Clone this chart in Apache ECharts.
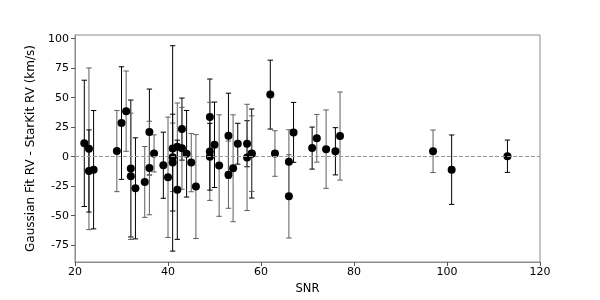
<!DOCTYPE html>
<html>
<head>
<meta charset="utf-8">
<script src="https://cdn.jsdelivr.net/npm/echarts@6/dist/echarts.min.js"></script>
<style>html,body{margin:0;padding:0;background:#fff}#c{width:600px;height:300px}</style>
</head>
<body>
<div id="c"></div>
<script>
const snr = [22,23,23,24,29,30,31,32,32,33,35,36,36,37,39,40,41,41,41,42,42,43,43,44,45,46,49,49,49,50,51,53,53,54,55,57,57,58,58,62,63,66,66,67,71,72,74,76,77,97,101,113];
const rvDiff = [11.3,6.7,-12.1,-11,4.8,28.5,38.6,-10,-16.6,-26.8,-21.4,20.9,-9.6,2.8,-7.2,-17.4,7,-0.5,-5,8.5,-28,23.4,7.1,2.5,-5,-25.3,33.6,4.5,0,10.1,-7.5,17.8,-15.2,-9.8,11,11,-0.6,2.7,2.6,52.6,2.7,-4.2,-33.6,20.6,7.3,15.6,6.4,4.6,17.5,4.6,-11,0.4];
const rvErr = [53.5,68.5,34.8,50.1,34.4,47.7,34,58,53.5,42.8,30,36.4,39.6,15.7,28,51,87,29,41,37,42,26.3,34.7,36.7,24.7,44,32.2,41.5,28.3,36.2,43,36,28.5,45.3,17.3,19.5,45,37.7,32,29.2,19.3,27,35.3,25.4,17.8,20.2,33.2,20,37.3,18,29.4,13.7];
const group = [0,1,0,0,1,0,1,0,1,0,1,0,1,1,0,1,0,1,0,1,0,0,1,0,1,1,0,1,0,0,1,0,1,1,0,0,1,0,1,0,1,1,1,0,0,1,1,0,1,1,0,0];
const yTicks = [-75,-50,-25,0,25,50,75,100];

const rows = snr.map((s,i)=>[s, rvDiff[i], rvErr[i], group[i]]);
const colors = ['#000000', '#5e5e5e'];
const font = 'DejaVu Sans';

const chart = echarts.init(document.getElementById('c'), null, {renderer:'canvas'});
chart.setOption({
  animation:false,
  backgroundColor:'#fff',
  grid:{left:75, right:60, top:35, bottom:38, show:true, borderColor:'#8c8c8c', borderWidth:1, backgroundColor:'transparent'},
  xAxis:{
    type:'value', min:20, max:120, interval:20,
    name:'SNR', nameLocation:'middle', nameGap:17,
    nameTextStyle:{fontFamily:font, fontSize:11.5, color:'#000', verticalAlign:'top'},
    axisLine:{show:true, onZero:false, lineStyle:{color:'#8c8c8c', width:1}},
    axisTick:{show:true, inside:false, length:4, lineStyle:{color:'#555'}},
    axisLabel:{fontFamily:font, fontSize:11, color:'#000', margin:5},
    splitLine:{show:false}
  },
  yAxis:{
    type:'value', min:-89.2, max:103.1,
    name:'Gaussian Fit RV - StarKit RV (km/s)', nameLocation:'middle', nameGap:32, nameRotate:90,
    nameTextStyle:{fontFamily:font, fontSize:12, color:'#000'},
    axisLine:{show:true, onZero:false, lineStyle:{color:'#8c8c8c', width:1}},
    axisTick:{show:true, inside:false, length:4, customValues:yTicks, lineStyle:{color:'#555'}},
    axisLabel:{fontFamily:font, fontSize:11, color:'#000', margin:6, customValues:yTicks},
    splitLine:{show:false}
  },
  series:[
    {
      type:'custom',
      data:rows,
      encode:{x:0, y:1},
      z:2,
      renderItem:function(params, api){
        const x = api.value(0), y = api.value(1), e = api.value(2);
        const c = colors[api.value(3)];
        const top = api.coord([x, y+e]);
        const bot = api.coord([x, y-e]);
        const hw = 2.7;
        const st = {stroke:c, lineWidth:1};
        return {type:'group', children:[
          {type:'line', shape:{x1:top[0], y1:top[1], x2:bot[0], y2:bot[1]}, style:st},
          {type:'line', shape:{x1:top[0]-hw, y1:top[1], x2:top[0]+hw, y2:top[1]}, style:st},
          {type:'line', shape:{x1:bot[0]-hw, y1:bot[1], x2:bot[0]+hw, y2:bot[1]}, style:st}
        ]};
      }
    },
    {
      type:'scatter',
      data:rows.map(r=>[r[0], r[1]]),
      symbol:'circle', symbolSize:8,
      itemStyle:{color:'#000', opacity:1},
      z:3,
      markLine:{
        silent:true, symbol:'none', label:{show:false},
        lineStyle:{color:'#999', type:[4,2], width:1},
        data:[{yAxis:0}]
      }
    }
  ]
});
</script>
</body>
</html>
